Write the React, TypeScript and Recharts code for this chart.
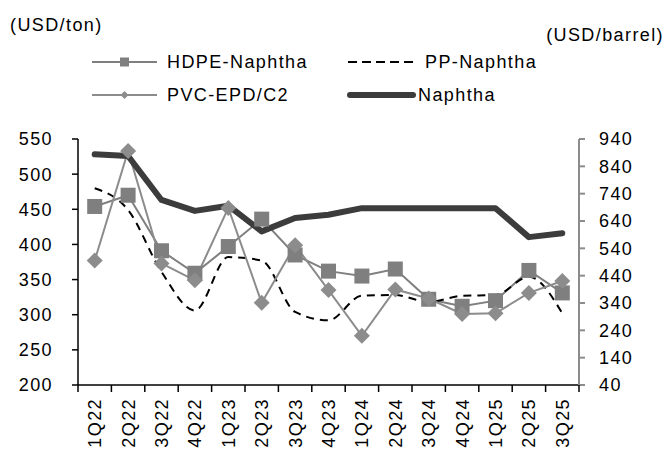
import { ComposedChart, Line, XAxis, YAxis } from "recharts"

const quarters = ["1Q22", "2Q22", "3Q22", "4Q22", "1Q23", "2Q23", "3Q23", "4Q23", "1Q24", "2Q24", "3Q24", "4Q24", "1Q25", "2Q25", "3Q25"]
const hdpeNaphtha = [454, 470, 391, 359, 397, 436, 385, 362, 355, 365, 322, 312, 320, 363, 331]
const ppNaphtha = [480, 449, 361, 306, 382, 377, 304, 292, 327, 328, 318, 327, 328, 354, 302]
const pvcEpd = [377, 533, 373, 349, 452, 317, 399, 335, 270, 336, 323, 301, 302, 331, 348]
const naphtha = [884, 878, 717, 677, 696, 602, 651, 663, 687, 687, 687, 687, 687, 581, 595]
const leftTicks = [200, 250, 300, 350, 400, 450, 500, 550]
const rightTicks = [40, 140, 240, 340, 440, 540, 640, 740, 840, 940]

const data = quarters.map((q, i) => ({
  q,
  hdpe: hdpeNaphtha[i],
  pp: ppNaphtha[i],
  pvc: pvcEpd[i],
  naphtha: naphtha[i],
}))

const FONT = "'Liberation Sans', Arial, sans-serif"
const textStyle = { fontFamily: FONT, fontSize: 18, letterSpacing: 1.4, fill: "#000" }

const W = 667
const H = 450
const PLOT_LEFT = 78
const PLOT_RIGHT = 579
const BAND = (PLOT_RIGHT - PLOT_LEFT) / quarters.length

const HDPE_GRAY = "#7f7f7f"
const PVC_GRAY = "#8c8c8c"
const NAPHTHA_GRAY = "#3c3c3c"

function YTick(props: any) {
  const { x, y, payload, textAnchor } = props
  return (
    <text x={x} y={y} dy="0.355em" textAnchor={textAnchor} style={textStyle}>
      {payload.value}
    </text>
  )
}

function QuarterTick(props: any) {
  const { x, y, payload, index } = props
  const left = x - BAND / 2
  return (
    <g>
      <line x1={left} y1={y} x2={left} y2={y + 7} stroke="#000" strokeWidth={1.5} />
      {index === quarters.length - 1 && (
        <line x1={x + BAND / 2} y1={y} x2={x + BAND / 2} y2={y + 7} stroke="#000" strokeWidth={1.5} />
      )}
      <g transform={`translate(${x},${y + 13}) rotate(-90)`}>
        <text textAnchor="end" dy="0.36em" style={textStyle}>
          {payload.value}
        </text>
      </g>
    </g>
  )
}

function SquareDot(props: any) {
  const { cx, cy } = props
  if (cx == null || cy == null) return null
  return <rect x={cx - 7.5} y={cy - 7.5} width={15} height={15} fill={HDPE_GRAY} />
}

function DiamondDot(props: any) {
  const { cx, cy } = props
  if (cx == null || cy == null) return null
  const r = 8
  return <polygon points={`${cx},${cy - r} ${cx + r},${cy} ${cx},${cy + r} ${cx - r},${cy}`} fill={PVC_GRAY} />
}

function Overlay() {
  return (
    <svg width={W} height={H} style={{ position: "absolute", left: 0, top: 0, pointerEvents: "none" }}>
      <text x={10} y={25} dy="0.355em" style={textStyle}>(USD/ton)</text>
      <text x={664} y={35} dy="0.355em" textAnchor="end" style={textStyle}>(USD/barrel)</text>

      {/* legend row 1 */}
      <line x1={92} y1={62} x2={157} y2={62} stroke={HDPE_GRAY} strokeWidth={2} />
      <rect x={120} y={57.5} width={9} height={9} fill={HDPE_GRAY} />
      <text x={167} y={62} dy="0.355em" style={textStyle}>HDPE-Naphtha</text>
      <line x1={348} y1={62} x2={413} y2={62} stroke="#000" strokeWidth={2} strokeDasharray="9 5" />
      <text x={425} y={62} dy="0.355em" style={textStyle}>PP-Naphtha</text>

      {/* legend row 2 */}
      <line x1={92} y1={95} x2={157} y2={95} stroke={PVC_GRAY} strokeWidth={2} />
      <polygon points="124.5,91 128.5,95 124.5,99 120.5,95" fill={PVC_GRAY} />
      <text x={167} y={95} dy="0.355em" style={textStyle}>PVC-EPD/C2</text>
      <line x1={350} y1={95} x2={413} y2={95} stroke={NAPHTHA_GRAY} strokeWidth={6} strokeLinecap="round" />
      <text x={418} y={95} dy="0.355em" style={textStyle}>Naphtha</text>
    </svg>
  )
}

export default function App() {
  return (
    <div style={{ position: "absolute", left: 0, top: 0, width: W, height: H, background: "#fff" }}>
      <ComposedChart width={W} height={H} data={data} margin={{ top: 139, right: 0, bottom: 0, left: 0 }}>
        <XAxis
          dataKey="q"
          scale="band"
          interval={0}
          height={65}
          tickLine={false}
          tickSize={0}
          tickMargin={0}
          stroke="#000"
          strokeWidth={1.5}
          axisLine={true}
          tick={<QuarterTick />}
        />
        <YAxis
          yAxisId="l"
          domain={[200, 550]}
          ticks={leftTicks}
          width={78}
          tickSize={6}
          tickMargin={19}
          stroke="#000"
          strokeWidth={1.5}
          axisLine={true}
          tickLine={true}
          tick={<YTick />}
          interval={0}
        />
        <YAxis
          yAxisId="r"
          orientation="right"
          domain={[40, 940]}
          ticks={rightTicks}
          width={88}
          tickSize={6}
          tickMargin={14}
          stroke="#8c8c8c"
          strokeWidth={2}
          axisLine={true}
          tickLine={true}
          tick={<YTick />}
          interval={0}
        />
        <Line yAxisId="l" dataKey="hdpe" stroke={HDPE_GRAY} strokeWidth={2} dot={<SquareDot />} activeDot={false} isAnimationActive={false} />
        <Line yAxisId="l" dataKey="pp" type="monotone" stroke="#000" strokeWidth={2} strokeDasharray="8 6" dot={false} activeDot={false} isAnimationActive={false} />
        <Line yAxisId="l" dataKey="pvc" stroke={PVC_GRAY} strokeWidth={2} dot={<DiamondDot />} activeDot={false} isAnimationActive={false} />
        <Line yAxisId="r" dataKey="naphtha" stroke={NAPHTHA_GRAY} strokeWidth={6} strokeLinejoin="round" strokeLinecap="round" dot={false} activeDot={false} isAnimationActive={false} />
      </ComposedChart>
      <Overlay />
    </div>
  )
}
